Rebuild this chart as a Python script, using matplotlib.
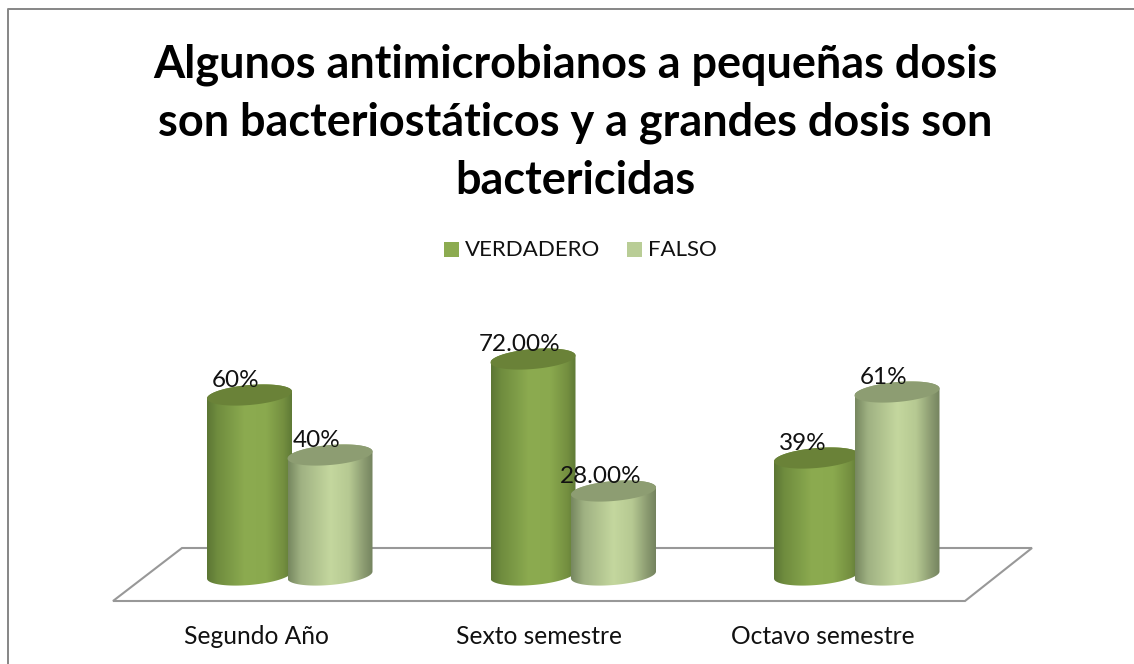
import numpy as np
import matplotlib
matplotlib.use('Agg')
import matplotlib.pyplot as plt
from matplotlib.patches import Polygon, PathPatch, Rectangle
from matplotlib.path import Path
from matplotlib.colors import LinearSegmentedColormap

plt.rcParams['font.family'] = ['Lato', 'DejaVu Sans']

W, H = 1134, 664
titulo = "Algunos antimicrobianos a pequeñas dosis\nson bacteriostáticos y a grandes dosis son\nbactericidas"
categorias = ["Segundo Año", "Sexto semestre", "Octavo semestre"]
series = ["VERDADERO", "FALSO"]
verdadero = [60, 72, 39]
falso = [40, 28, 61]
etiquetas_v = ["60%", "72.00%", "39%"]
etiquetas_f = ["40%", "28.00%", "61%"]

# escala: pixeles de la imagen a unidades de los datos
X0, PX_CAT = 289.5, 283.5
Y0, PX_VAL = 575.0, 3.0


def fx(px):
    return (px - X0) / PX_CAT


def fy(py):
    return (Y0 - py) / PX_VAL


fig = plt.figure(figsize=(W / 100, H / 100), dpi=100)
ax = fig.add_axes([0, 0, 1, 1])
ax.set_xlim(fx(0), fx(W))
ax.set_ylim(fy(H), fy(0))
ax.axis('off')

# marco del grafico
ax.plot([fx(8), fx(8), fx(W)], [fy(H), fy(9), fy(9)], color='#868686', lw=1.4)

# piso
piso = [(113, 601), (965, 601), (1032, 548), (182, 548)]
ax.add_patch(Polygon([(fx(a), fy(b)) for a, b in piso], closed=True, fc='white', ec='#989898', lw=1.5, zorder=1))

verde = LinearSegmentedColormap.from_list('v', [(0, '#5c7634'), (0.12, '#6f8c3e'), (0.45, '#8cab50'), (0.7, '#8aa94e'), (0.9, '#748f40'), (1, '#5f7a36')])
claro = LinearSegmentedColormap.from_list('c', [(0, '#76875f'), (0.15, '#9fb182'), (0.5, '#c4d79e'), (0.72, '#b6c992'), (0.9, '#8a9a70'), (1, '#74835f')])
TOPE_V = '#6a8238'
TOPE_C = '#8d9d72'
ANCHO = 85 / PX_CAT
semi_b = 10 / PX_VAL
incl = 3.5 / PX_VAL
DX_V = -40 / PX_CAT
DX_F = 40.5 / PX_CAT


def cilindro(x, v, cmap, tope, z):
    t = np.linspace(0, 2 * np.pi, 121)
    a = ANCHO / 2
    # base y tapa son elipses inclinadas
    ex = a * np.cos(t)
    ey = semi_b * np.sin(t) + incl * np.cos(t)
    abajo = t[:61]
    cuerpo_x = np.r_[x + a * np.cos(abajo), x + a * np.cos(abajo[::-1])]
    cuerpo_y = np.r_[v + semi_b * np.sin(abajo) + incl * np.cos(abajo),
                     0 - semi_b * np.sin(abajo[::-1]) + incl * np.cos(abajo[::-1])]
    clip = PathPatch(Path(np.c_[cuerpo_x, cuerpo_y]), transform=ax.transData, fc='none', ec='none')
    ax.add_patch(clip)
    grad = np.linspace(0, 1, 256).reshape(1, -1)
    im = ax.imshow(grad, cmap=cmap, aspect='auto', extent=(x - a, x + a, -10, v + 10), zorder=z)
    im.set_clip_path(clip)
    ax.add_patch(Polygon(np.c_[x + ex, v + ey], closed=True, fc=tope, ec='none', zorder=z + 0.1))


for i in range(len(categorias)):
    cilindro(i + DX_V, verdadero[i], verde, TOPE_V, 2 + i * 2)
    cilindro(i + DX_F, falso[i], claro, TOPE_C, 3 + i * 2)
    ax.text(i + DX_V - 13.5 / PX_CAT, verdadero[i] + 4.8, etiquetas_v[i], fontsize=17.5, ha='center', va='center', color='#111111', zorder=10)
    ax.text(i + DX_F - 13 / PX_CAT, falso[i] + 4.8, etiquetas_f[i], fontsize=17.5, ha='center', va='center', color='#111111', zorder=10)
    ax.text(i - 33.5 / PX_CAT, fy(637), categorias[i], fontsize=17.7, ha='center', va='center', color='#111111')
ax.set_xlim(fx(0), fx(W))
ax.set_ylim(fy(H), fy(0))

fig.text(575 / W, 1 - 123 / H, titulo, fontsize=32.4, fontweight='bold', ha='center', va='center', linespacing=1.46, color='black')

# leyenda
fig.add_artist(Rectangle((444 / W, 1 - 257 / H), 15 / W, 15 / H, transform=fig.transFigure, fc='#8cab50', ec='none'))
fig.add_artist(Rectangle((627 / W, 1 - 257 / H), 15 / W, 15 / H, transform=fig.transFigure, fc='#b9cd96', ec='none'))
fig.text(465 / W, 1 - 250 / H, series[0], fontsize=16, va='center', color='#111111')
fig.text(648 / W, 1 - 250 / H, series[1], fontsize=16, va='center', color='#111111')

fig.savefig('out.png', dpi=100)
